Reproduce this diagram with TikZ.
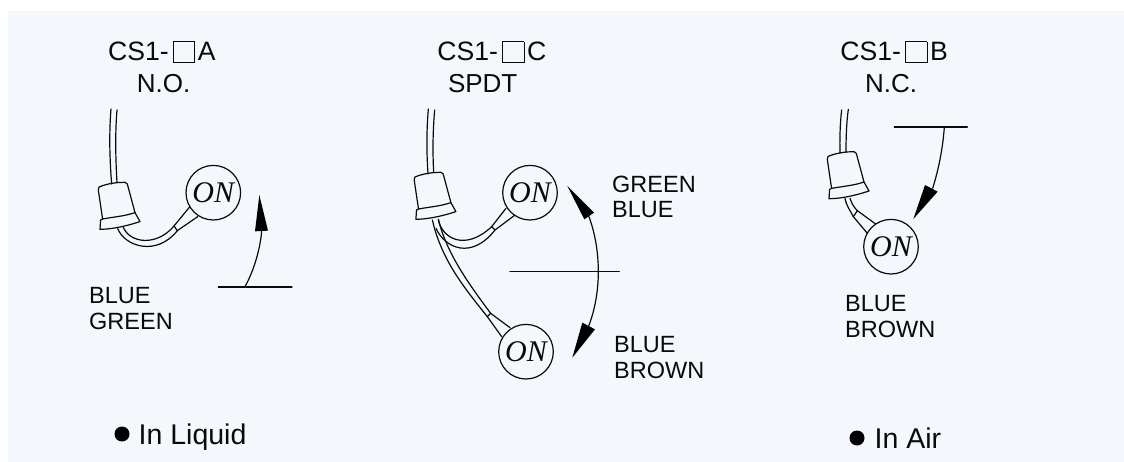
\documentclass[tikz,border=0pt]{standalone}
\usepackage{fontspec}
\setmainfont{Liberation Sans}
\newfontfamily\onfont{Liberation Serif}
\definecolor{panel}{HTML}{F4F7FC}
\definecolor{ink}{HTML}{0A0A0A}
\newcommand\sqbx{\hspace{4pt}\raisebox{-1.6pt}{\fboxsep=0pt\fboxrule=.8pt\fbox{\rule{0pt}{20pt}\rule{20.8pt}{0pt}}}\hspace{2.6pt}}
\tikzset{
  ln/.style={draw=ink,line width=1.2pt,line cap=round,line join=round},
  zoomunits/.style={x=0.33333pt,y=-0.33333pt},
  titletext/.style={anchor=base west,inner sep=0,text=ink,font=\fontsize{26.6}{30}\selectfont},
  subtext/.style={anchor=base,inner sep=0,text=ink,font=\fontsize{26}{30}\selectfont},
  lab/.style={anchor=base west,inner sep=0,text=ink,font=\fontsize{23.5}{25}\selectfont},
  cond/.style={anchor=base west,inner sep=0,text=ink,font=\fontsize{28.5}{32}\selectfont},
  onball/.style={circle,draw=ink,line width=1.2pt,minimum size=54.6pt,inner sep=0,text=ink,font=\onfont\itshape\fontsize{30}{32}\selectfont},
  headfill/.style={fill=black,draw=none},
  bullet/.style={circle,fill=black,minimum size=15pt,inner sep=0},
  pics/capbody/.style={code={
    \draw[ln] (-11.7,35.7) -- (-16,6.7) .. controls (-16.3,4) and (-15,3) .. (-12.7,2.7)
      .. controls (-5,0) and (3,-1) .. (10.7,-1) .. controls (12,-1) and (12.8,-0.2) .. (13,0.7)
      -- (20.7,29.3) .. controls (10,33) and (0,33.5) .. (-11.7,35.7);
    \draw[ln] (-11.7,35.7) -- (-13.7,36.7) -- (-14.3,46)
      .. controls (-4,46) and (10,43.5) .. (25.7,38.3) -- (20.7,29.3);
  }}
}
\begin{document}
\begin{tikzpicture}[x=1pt,y=-1pt]
\useasboundingbox (0,0) rectangle (1124,462);
\fill[panel] (8,11) rectangle (1124,462);
% titles
\node[titletext] (t1) at (108,60.7) {CS1-\sqbx A};
\node[subtext] (s1) at (163.5,92.7) {N.O.};
\node[titletext] (t2) at (437.2,60.7) {CS1-\sqbx C};
\node[subtext] (s2) at (482.7,92.7) {SPDT};
\node[titletext] (t3) at (840.2,60.7) {CS1-\sqbx B};
\node[subtext] (s3) at (891.2,92.7) {N.C.};
% labels
\node[lab] (l1a) at (89,304) {BLUE};
\node[lab] (l1b) at (89,329) {GREEN};
\node[lab] (l2a) at (612,193) {GREEN};
\node[lab] (l2b) at (612,218) {BLUE};
\node[lab] (l3a) at (614,352) {BLUE};
\node[lab] (l3b) at (614,378) {BROWN};
\node[lab] (l4a) at (845,312) {BLUE};
\node[lab] (l4b) at (845,337) {BROWN};
% conditions
\node[bullet] (d1) at (122,434) {};
\node[cond] (c1) at (138.5,444) {In Liquid};
\node[bullet] (d2) at (857,438) {};
\node[cond] (c2) at (874.5,448) {In Air};
% ON floats
\node[onball] (on1) at (213.3,192.7) {ON};
\node[onball] (on2) at (530,192.7) {ON};
\node[onball] (on3) at (526,351.7) {ON};
\node[onball] (on4) at (891,246.7) {ON};
% left float
\begin{scope}[shift={(70pt,-20pt)},zoomunits]
  \draw[ln] (123,267) .. controls (117,340) and (119,420) .. (125,492);
  \draw[ln] (141,270) .. controls (135,340) and (137,420) .. (141,488);
  \draw[ln] (143,626) .. controls (165,680) and (260,710) .. (322,632);
  \draw[ln] (160,622) .. controls (180,670) and (260,680) .. (312,618);
  \draw[ln] (312,618) -- (322,632);
  \draw[ln] (312,618) -- (358,562);
  \draw[ln] (322,632) -- (383,590);
  % arrow
  \draw[ln] (575,632) .. controls (572,680) and (553,750) .. (525,800);
  \fill[headfill] (568,525) -- (555,634) -- (594,632) -- cycle;
  \draw[ln] (445,801) -- (666,801);
\end{scope}
\pic at (114.3,183.3) {capbody};
% middle float
\begin{scope}[shift={(400pt,-200pt)},zoomunits]
  \draw[ln] (97,60) .. controls (125,180) and (190,260) .. (262,350);
  \draw[ln] (115,58) .. controls (140,160) and (205,250) .. (272,340);
  \draw[ln] (115,58) .. controls (125,115) and (195,155) .. (275,80);
  \draw[ln] (108,85) .. controls (135,145) and (215,180) .. (285,90);
  \draw[ln] (275,80) -- (285,90);
  \draw[ln] (275,80) -- (318,25);
  \draw[ln] (285,90) -- (345,45);
  \draw[ln] (262,350) -- (272,340);
  \draw[ln] (262,350) -- (305,410);
  \draw[ln] (272,340) -- (330,383);
  % arrows and level
  \draw[ln] (330,215) -- (658,215);
  \draw[ln] (566,48) .. controls (586,100) and (595,160) .. (595,215)
     .. controls (595,270) and (585,330) .. (566,378);
  \fill[headfill] (547,368) -- (585,388) -- (517,473) -- cycle;
  \fill[headfill] (553,58) -- (582,38) -- (502,-42) -- cycle;
\end{scope}
\begin{scope}[shift={(390pt,-20pt)},zoomunits]
  \draw[ln] (115,267) .. controls (109,340) and (110,400) .. (114,462);
  \draw[ln] (134,270) .. controls (128,340) and (128,400) .. (131,458);
\end{scope}
\pic at (430.2,173.3) {capbody};
% right float
\begin{scope}[shift={(790pt,-20pt)},zoomunits]
  \draw[ln] (155,270) .. controls (150,310) and (149,360) .. (150,400);
  \draw[ln] (175,268) .. controls (169,310) and (168,360) .. (168,397);
  \draw[ln] (165,535) .. controls (170,560) and (180,570) .. (190,590);
  \draw[ln] (180,535) .. controls (185,550) and (190,560) .. (202,572);
  \draw[ln] (190,590) -- (202,572);
  \draw[ln] (190,590) -- (232,640);
  \draw[ln] (202,572) -- (257,612);
  \draw[ln] (313,321) -- (532,321);
  \draw[ln] (463,321) .. controls (458,390) and (445,450) .. (428,505);
  \fill[headfill] (405,495) -- (443,515) -- (370,597) -- cycle;
\end{scope}
\pic at (843.3,152.7) {capbody};
\end{tikzpicture}
\end{document}
